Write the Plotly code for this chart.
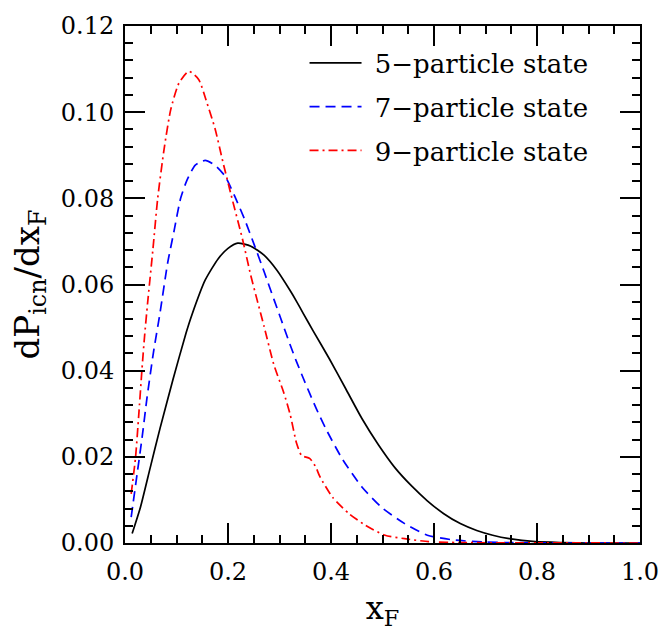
import plotly.graph_objects as go

# Intrinsic-charm x_F distributions for the 5-, 7- and 9-particle Fock states
x5 = [0.0139, 0.030, 0.049, 0.068, 0.0933, 0.1187, 0.130, 0.1556, 0.181, 0.200, 0.219,
      0.2444, 0.270, 0.295, 0.3206, 0.333, 0.346, 0.365, 0.397, 0.4286, 0.460, 0.492,
      0.524, 0.556, 0.587, 0.619, 0.651, 0.683, 0.714, 0.746, 0.797, 0.85, 0.90, 1.0]
y5 = [0.0022, 0.0083, 0.0175, 0.0266, 0.0380, 0.0488, 0.0530, 0.0610, 0.0660, 0.0684, 0.0696,
      0.0689, 0.0668, 0.0633, 0.0586, 0.0561, 0.0533, 0.0493, 0.0427, 0.0358, 0.0289, 0.0228,
      0.0175, 0.0133, 0.0098, 0.0068, 0.0045, 0.0029, 0.0018, 0.0010, 0.0003, 0.0001, 0.0, 0.0]

x7 = [0.012, 0.0235, 0.033, 0.0425, 0.0552, 0.068, 0.0825, 0.0952, 0.108, 0.1206, 0.1365,
      0.1556, 0.1746, 0.194, 0.213, 0.232, 0.251, 0.270, 0.289, 0.3016, 0.3206, 0.333,
      0.346, 0.359, 0.371, 0.390, 0.422, 0.460, 0.498, 0.543, 0.587, 0.638, 0.70, 0.75,
      0.85, 1.0]
y7 = [0.0060, 0.0160, 0.0243, 0.0335, 0.0442, 0.0534, 0.0648, 0.0724, 0.0800, 0.0843, 0.0877,
      0.0888, 0.0877, 0.0852, 0.0805, 0.0752, 0.0692, 0.0630, 0.0566, 0.0524, 0.0460, 0.0421,
      0.0383, 0.0346, 0.0313, 0.0265, 0.0195, 0.0130, 0.0083, 0.0045, 0.0018, 0.0007, 0.0002,
      0.0001, 0.0, 0.0]

x9 = [0.012, 0.0204, 0.0267, 0.033, 0.038, 0.0438, 0.054, 0.0635, 0.076, 0.089, 0.105, 0.124,
      0.143, 0.159, 0.175, 0.190, 0.206, 0.229, 0.244, 0.257, 0.270, 0.289, 0.308, 0.321,
      0.333, 0.343, 0.359, 0.371, 0.378, 0.403, 0.435, 0.467, 0.505, 0.543, 0.59, 0.65, 1.0]
y9 = [0.0114, 0.0198, 0.0297, 0.0404, 0.0480, 0.0556, 0.0679, 0.0800, 0.0915, 0.1007, 0.1068,
      0.1095, 0.1076, 0.1022, 0.0961, 0.0885, 0.0808, 0.0701, 0.0622, 0.0562, 0.0503, 0.0414,
      0.0350, 0.0297, 0.0232, 0.0203, 0.0196, 0.0175, 0.0155, 0.0106, 0.0068, 0.0041, 0.0018,
      0.0010, 0.0003, 0.0001, 0.0]

names = ["\u00a05\u2212particle state", "\u00a07\u2212particle state", "\u00a09\u2212particle state"]

FONT = "DejaVu Serif"

fig = go.Figure()
fig.add_trace(go.Scatter(x=x5, y=y5, mode="lines", name=names[0], legendgroup="a",
                         line=dict(color="black", width=1.7, shape="spline", smoothing=0.6)))
fig.add_trace(go.Scatter(x=x7, y=y7, mode="lines", name=names[1], legendgroup="b",
                         line=dict(color="#0000ff", width=1.7, dash="10px,6px",
                                   shape="spline", smoothing=0.6)))
fig.add_trace(go.Scatter(x=x9, y=y9, mode="lines", name=names[2], legendgroup="c",
                         line=dict(color="#ff0000", width=1.7, dash="9px,4px,2px,4px",
                                   shape="spline", smoothing=0.6)))

axis_common = dict(
    showline=True, linecolor="black", linewidth=2, mirror="allticks",
    ticks="inside", tickcolor="black", tickwidth=1.5, ticklen=20,
    showgrid=False, zeroline=False,
    tickfont=dict(family=FONT, size=24, color="black"),
)

fig.update_xaxes(range=[0, 1], dtick=0.2, tick0=0, tickformat=".1f", ticklabelstandoff=6,
                 minor=dict(dtick=0.05, ticks="inside", ticklen=8, tickwidth=1.5,
                            tickcolor="black", showgrid=False),
                 title=dict(text="x<sub>F</sub>", font=dict(family=FONT, size=32, color="black"),
                            standoff=12),
                 **axis_common)
fig.update_yaxes(range=[0, 0.12], dtick=0.02, tick0=0, tickformat=".2f", ticklabelstandoff=4,
                 minor=dict(dtick=0.004, ticks="inside", ticklen=8, tickwidth=1.5,
                            tickcolor="black", showgrid=False),
                 title=dict(text="dP<sub>icn</sub>/dx<sub>F</sub>",
                            font=dict(family=FONT, size=34, color="black"), standoff=11),
                 **axis_common)

fig.update_layout(
    width=671, height=635,
    margin=dict(l=125, r=21, t=19, b=92),
    paper_bgcolor="white", plot_bgcolor="white",
    font=dict(family=FONT, color="black"),
    legend=dict(x=0.3486, y=0.974, xanchor="left", yanchor="top",
                font=dict(family=FONT, size=26, color="black"),
                bgcolor="rgba(0,0,0,0)", itemwidth=52, tracegroupgap=7,
                traceorder="grouped"),
)

fig.write_html("out.html")
